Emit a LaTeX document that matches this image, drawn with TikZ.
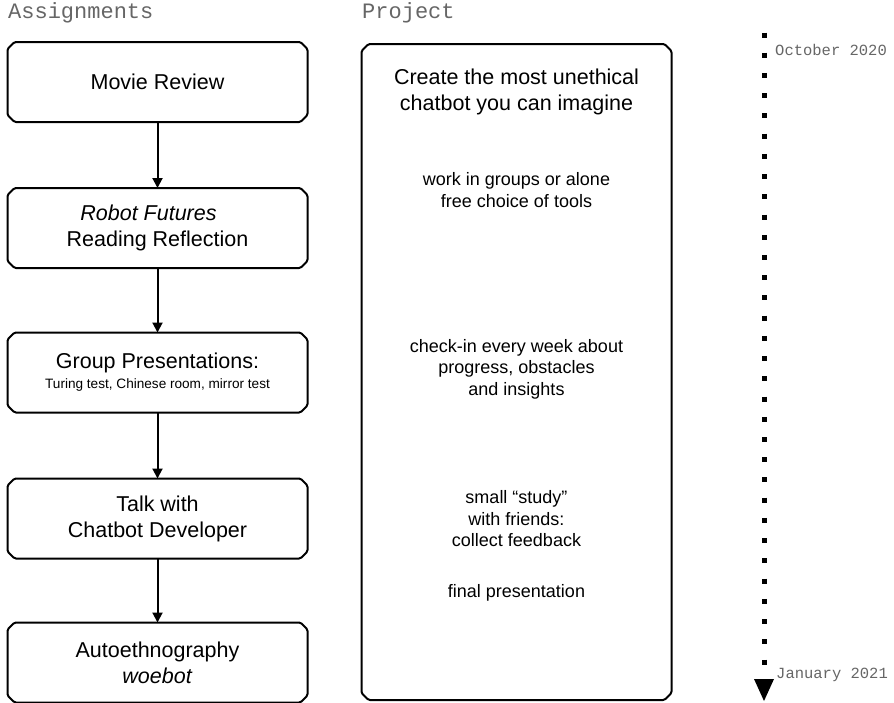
\documentclass[tikz,border=0pt]{standalone}
\usepackage{fontspec}
\setmainfont{Liberation Sans}
\newfontfamily\monofont{Liberation Mono}
\usetikzlibrary{arrows.meta}

\tikzset{
  stepbox/.style={rectangle, minimum width=298pt, minimum height=78pt,
    inner sep=0pt, outer sep=1pt, align=center,
    font=\fontsize{21.5}{26}\selectfont},
  projbox/.style={rectangle, minimum width=310pt, minimum height=656pt,
    inner sep=0pt, outer sep=0pt},
  boxline/.style={line width=2pt, rounded corners=1.5pt},
  bigtxt/.style={align=center, inner sep=0pt, font=\fontsize{21.5}{26}\selectfont},
  smalltxt/.style={align=center, inner sep=0pt, font=\fontsize{18}{21.5}\selectfont},
  header/.style={anchor=west, inner sep=0pt, text=black!60,
    font=\monofont\fontsize{22}{24}\selectfont},
  datelabel/.style={anchor=west, inner sep=0pt, text=black!60,
    font=\monofont\fontsize{15.5}{17}\selectfont},
  flow/.style={line width=2pt, -{Triangle[width=10pt,length=10pt]}},
  timeline/.style={line width=5pt, dash pattern=on 5pt off 15.226pt},
}

% outline with small cut corners around a named node
\newcommand\cutframe[1]{%
  \draw[boxline] ([xshift=7pt]#1.north west) -- ([xshift=-7pt]#1.north east)
    -- ([yshift=-7pt]#1.north east) -- ([yshift=7pt]#1.south east)
    -- ([xshift=-7pt]#1.south east) -- ([xshift=7pt]#1.south west)
    -- ([yshift=7pt]#1.south west) -- ([yshift=-7pt]#1.north west) -- cycle;}

\begin{document}
\begin{tikzpicture}[x=1pt, y=-1pt]
\useasboundingbox (0,0) rectangle (894,702);

% column headers
\node[header] (hA) at (8,13) {Assignments};
\node[header] (hP) at (362,13) {Project};

% assignment sequence
\node[stepbox] (a1) at (157.5,82) {Movie Review};
\node[stepbox] (a2) at (157.5,228) {\textit{Robot Futures}\hspace*{18pt}\\Reading Reflection};
\node[stepbox] (a3) at (157.5,372.5) {Group Presentations:\\[-6pt]{\fontsize{13.6}{16}\selectfont Turing test, Chinese room, mirror test}};
\node[stepbox] (a4) at (157.5,518.5) {Talk with\\Chatbot Developer};
\node[stepbox] (a5) at (157.5,662.5) {Autoethnography\\\textit{woebot}};
\foreach \b in {a1,a2,a3,a4,a5} {\cutframe{\b}}

\draw[flow] (a1) -- (a2);
\draw[flow] (a2) -- (a3);
\draw[flow] (a3) -- (a4);
\draw[flow] (a4) -- (a5);

% project column
\node[projbox] (p) at (516.5,372) {};
\cutframe{p}
\node[bigtxt] (p1) at (516.5,92) {Create the most unethical\\chatbot you can imagine};
\node[smalltxt] (p2) at (516.5,190) {work in groups or alone\\free choice of tools};
\node[smalltxt] (p3) at (516.5,369) {check-in every week about\\progress, obstacles\\and insights};
\node[smalltxt] (p4) at (516.5,519) {small “study”\\with friends:\\collect feedback};
\node[smalltxt] (p5) at (516.5,593) {final presentation};

% timeline
\coordinate (t0) at (764,32.5);
\coordinate (t1) at (764,664.5);
\coordinate (tipL) at (754,679);
\coordinate (tipR) at (774,679);
\coordinate (tip) at (764,701);
\draw[timeline] (t0) -- (t1);
\fill (tipL) -- (tipR) -- (tip) -- cycle;
\node[datelabel] (d1) at (775,50) {October 2020};
\node[datelabel] (d2) at (776,675) {January 2021};
\end{tikzpicture}
\end{document}
